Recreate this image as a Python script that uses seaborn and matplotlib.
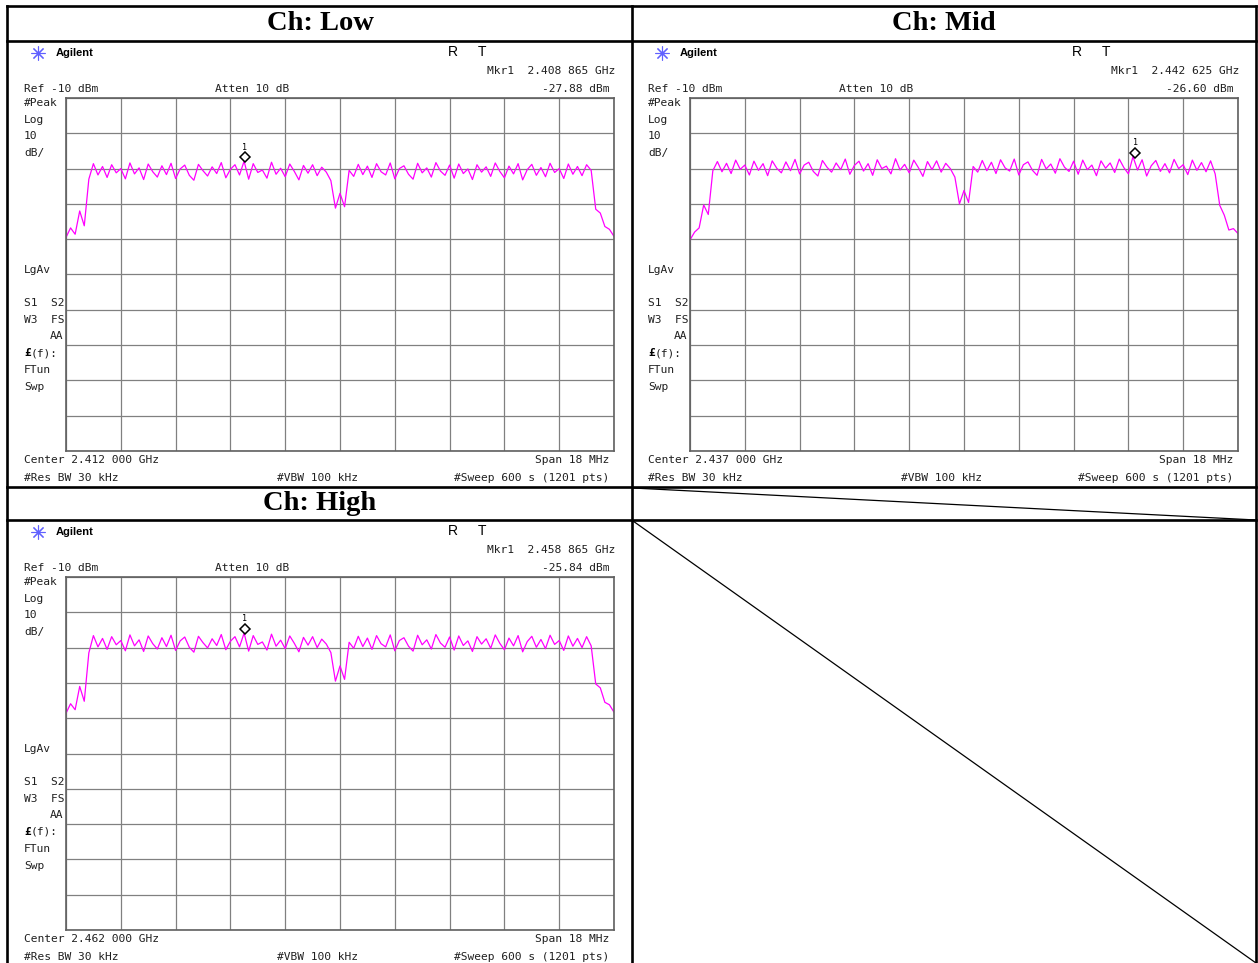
import numpy as np
import pandas as pd
import matplotlib
matplotlib.use("Agg")
import matplotlib.pyplot as plt
import seaborn as sns
from matplotlib.transforms import offset_copy

# channel settings
channels = ["Low", "Mid", "High"]
center_mhz = [2412.0, 2437.0, 2462.0]
center_txt = ["2.412 000 GHz", "2.437 000 GHz", "2.462 000 GHz"]
span_mhz = 18.0
ref_dbm = -10
db_div = 10
mkr_mhz = [2408.865, 2442.625, 2458.865]
mkr_txt = ["2.408 865 GHz", "2.442 625 GHz", "2.458 865 GHz"]
mkr_dbm = [-27.88, -26.60, -25.84]

low_trace = [
    -49.5, -46.8, -48.6, -42.0, -46.2, -33.0,
    -28.6, -31.8, -29.4, -32.5, -28.9, -31.2, -30.0, -32.9, -28.4, -31.5,
    -29.8, -33.1, -28.7, -30.9, -32.4, -29.2, -31.7, -28.5, -32.8, -30.1,
    -29.0, -31.9, -33.3, -28.8, -30.6, -32.1, -29.5, -31.4, -28.3, -32.6,
    -30.2, -28.9, -31.8, -27.9, -33.0, -28.6, -31.1, -30.4, -32.7, -28.2,
    -31.6, -29.9, -32.3, -28.7, -30.8, -33.2, -29.1, -31.3, -28.9, -32.0,
    -29.6, -31.0, -33.4, -41.2, -37.0, -40.8, -30.5, -32.2, -28.8, -31.7,
    -29.3, -32.5, -28.6, -30.9, -31.8, -28.4, -32.9, -30.0, -29.2, -31.6,
    -33.0, -28.5, -31.2, -29.8, -32.4, -28.3, -30.7, -31.9, -29.0, -32.7,
    -28.7, -31.4, -30.1, -33.1, -28.9, -31.0, -29.5, -32.2, -28.4, -30.8,
    -32.6, -29.3, -31.5, -28.6, -33.2, -30.3, -28.8, -31.9, -29.7, -32.3,
    -28.5, -31.1, -30.0, -32.8, -28.7, -31.6, -29.4, -32.0, -28.9,
    -30.5, -41.5, -42.6, -46.4, -47.2, -49.2,
]
mid_trace = [
    -50.2, -48.0, -46.8, -40.3, -43.0, -30.6,
    -28.0, -30.9, -28.5, -31.4, -27.6, -30.2, -29.0, -31.8, -27.9, -30.5,
    -28.6, -32.0, -27.8, -29.9, -31.2, -28.1, -30.6, -27.4, -31.5, -29.0,
    -28.2, -30.8, -32.1, -27.7, -29.6, -31.0, -28.4, -30.3, -27.3, -31.6,
    -29.1, -27.9, -30.7, -28.6, -31.9, -27.5, -30.0, -29.3, -31.5, -27.2,
    -30.4, -28.8, -31.2, -27.6, -29.7, -32.2, -28.0, -30.3, -27.8, -31.0,
    -28.5, -30.0, -32.4, -40.0, -36.2, -39.6, -29.4, -31.0, -27.7, -30.6,
    -28.2, -31.4, -27.5, -29.8, -30.7, -27.3, -31.8, -28.9, -28.1, -30.5,
    -31.9, -27.4, -30.1, -28.7, -31.3, -27.2, -29.6, -30.8, -27.9, -31.6,
    -27.6, -30.3, -29.0, -32.0, -27.8, -29.9, -28.4, -31.1, -27.3, -29.7,
    -31.5, -26.6, -30.4, -27.5, -32.1, -29.2, -27.7, -30.8, -28.6, -31.2,
    -27.4, -30.0, -28.9, -31.7, -27.6, -30.5, -28.3, -30.9, -27.8,
    -31.5, -40.4, -43.2, -47.4, -47.0, -48.4,
]
high_trace = [
    -48.6, -45.9, -47.6, -41.0, -45.2, -31.5,
    -26.6, -29.8, -27.4, -30.5, -26.9, -29.2, -28.0, -30.9, -26.4, -29.5,
    -27.8, -31.1, -26.7, -28.9, -30.4, -27.2, -29.7, -26.5, -30.8, -28.1,
    -27.0, -29.9, -31.3, -26.8, -28.6, -30.1, -27.5, -29.4, -26.3, -30.6,
    -28.2, -26.9, -29.8, -25.9, -31.0, -26.6, -29.1, -28.4, -30.7, -26.2,
    -29.6, -27.9, -30.3, -26.7, -28.8, -31.2, -27.1, -29.3, -26.9, -30.0,
    -27.6, -29.0, -31.4, -39.5, -35.2, -39.0, -28.5, -30.2, -26.8, -29.7,
    -27.3, -30.5, -26.6, -28.9, -29.8, -26.4, -30.9, -28.0, -27.2, -29.6,
    -31.0, -26.5, -29.2, -27.8, -30.4, -26.3, -28.7, -29.9, -27.0, -30.7,
    -26.7, -29.4, -28.1, -31.1, -26.9, -29.0, -27.5, -30.2, -26.4, -28.8,
    -30.6, -27.3, -29.5, -26.6, -31.2, -28.3, -26.8, -29.9, -27.7, -30.3,
    -26.5, -29.1, -28.0, -30.8, -26.7, -29.6, -27.4, -30.0, -26.9,
    -29.5, -40.3, -41.4, -45.5, -46.2, -48.3,
]
traces = [low_trace, mid_trace, high_trace]

W, H = 1258, 963
fig = plt.figure(figsize=(W / 100, H / 100), dpi=100)
fig.patch.set_facecolor("white")

ov = fig.add_axes([0, 0, 1, 1])
ov.set_xlim(0, W)
ov.set_ylim(H, 0)
ov.axis("off")

# table frame
tk = dict(color="black", lw=1.9, solid_capstyle="projecting")
ov.plot([7, 1256], [6, 6], **tk)
ov.plot([7, 7], [6, H], **tk)
ov.plot([1256, 1256], [6, H], **tk)
ov.plot([632, 632], [6, H], **tk)
for yy in [41, 487, 520]:
    ov.plot([7, 1256], [yy, yy], **tk)
ov.plot([633, 1256], [488, 520], color="black", lw=0.9)
ov.plot([633, 1256], [521, 963], color="black", lw=0.9)

title_pos = [(320, 24), (944, 24), (320, 504)]
for ch, (tx, ty) in zip(channels, title_pos):
    ov.text(tx, ty, f"Ch: {ch}", ha="center", va="center", fontsize=20.5,
            fontweight="bold", family="Liberation Serif")

mono = dict(family="DejaVu Sans Mono", fontsize=8.1, va="center", color="#202020")
origins = [(8, 41), (632, 41), (8, 520)]

for k, (ox, oy) in enumerate(origins):
    c = center_mhz[k]
    freq = np.linspace(c - span_mhz / 2, c + span_mhz / 2, len(traces[k]))
    df = pd.DataFrame({"freq": freq, "level": traces[k]})

    # header / labels around the graticule
    ov.plot([ox + 30], [oy + 12], marker=(8, 2, 0), ms=10, mew=0.8,
            color="#6060ff", ls="none")
    ov.text(ox + 48, oy + 12, "Agilent", family="Liberation Sans", fontweight="bold",
            fontsize=8, va="center")
    ov.text(ox + 440, oy + 11, "R", family="Liberation Sans", fontsize=10, va="center")
    ov.text(ox + 470, oy + 11, "T", family="Liberation Sans", fontsize=10, va="center")
    ov.text(ox + 607, oy + 30, "Mkr1  " + mkr_txt[k], ha="right", **mono)
    ov.text(ox + 16, oy + 48, f"Ref {ref_dbm} dBm", **mono)
    ov.text(ox + 207, oy + 48, "Atten 10 dB", **mono)
    ov.text(ox + 601, oy + 48, f"{mkr_dbm[k]:.2f} dBm", ha="right", **mono)
    for lab, dy in [("#Peak", 62), ("Log", 79), (str(db_div), 95), ("dB/", 112),
                    ("LgAv", 229), ("S1  S2", 262), ("W3  FS", 279), ("FTun", 329),
                    ("Swp", 346)]:
        ov.text(ox + 16, oy + dy, lab, **mono)
    ov.text(ox + 55, oy + 295, "AA", ha="right", **mono)
    ov.text(ox + 16, oy + 312, "£", fontweight="bold", **{**mono, "color": "black"})
    ov.text(ox + 23, oy + 312, "(f):", **mono)
    ov.text(ox + 16, oy + 419, "Center " + center_txt[k], **mono)
    ov.text(ox + 601, oy + 419, f"Span {span_mhz:.0f} MHz", ha="right", **mono)
    ov.text(ox + 16, oy + 437, "#Res BW 30 kHz", **mono)
    ov.text(ox + 269, oy + 437, "#VBW 100 kHz", **mono)
    ov.text(ox + 601, oy + 437, "#Sweep 600 s (1201 pts)", ha="right", **mono)
    ov.text(ox + 603, oy + 384, "^", ha="center", **{**mono, "fontsize": 6})

    # graticule
    gx, gy, gw, gh = ox + 58, oy + 57, 548, 353
    ax = fig.add_axes([gx / W, 1 - (gy + gh) / H, gw / W, gh / H])
    ax.set_facecolor("white")
    sns.lineplot(data=df, x="freq", y="level", ax=ax, color="#ff00ff",
                 linewidth=0.9, sort=False)
    ax.set_xlim(c - span_mhz / 2, c + span_mhz / 2)
    ax.set_ylim(ref_dbm - 10 * db_div, ref_dbm)
    ax.set_xticks(np.linspace(c - span_mhz / 2, c + span_mhz / 2, 11))
    ax.set_yticks(np.arange(ref_dbm - 10 * db_div, ref_dbm + 1, db_div))
    ax.tick_params(length=0, labelbottom=False, labelleft=False)
    ax.grid(True, color="#808080", lw=0.9)
    ax.set_xlabel("")
    ax.set_ylabel("")
    for s in ax.spines.values():
        s.set_color("#606060")
        s.set_linewidth(1.2)

    # marker 1
    ax.plot([mkr_mhz[k]], [mkr_dbm[k]], marker="D", ms=5, mfc="white", mec="black",
            mew=1.1, ls="none", transform=offset_copy(ax.transData, fig=fig, y=4, units="dots"))
    ax.text(mkr_mhz[k], mkr_dbm[k], "1", ha="center", va="center", fontsize=6,
            family="DejaVu Sans Mono",
            transform=offset_copy(ax.transData, fig=fig, y=14, units="dots"))

fig.savefig("out.png", dpi=100)
